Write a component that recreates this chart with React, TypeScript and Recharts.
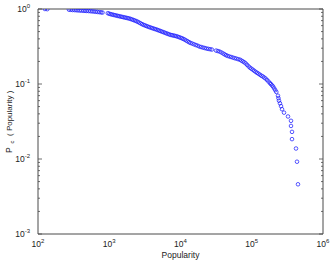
import { ScatterChart, Scatter, XAxis, YAxis } from 'recharts';

// popularity (x) and complementary cumulative probability (y)
const popularity = [
  125, 135, 272, 288, 305, 324, 343, 363, 385, 407, 432, 457, 484, 513, 543, 575, 610, 646, 684, 724,
  767, 804, 955, 1000, 1047, 1096, 1148, 1202, 1259, 1318, 1380, 1445, 1514, 1585, 1660, 1738, 1820,
  1905, 1995, 2089, 2188, 2291, 2399, 2512, 2630, 2754, 2884, 3020, 3162, 3311, 3467, 3631, 3802, 3981,
  4169, 4365, 4571, 4786, 5012, 5248, 5495, 5754, 6026, 6310, 6607, 6918, 7244, 7586, 7943, 8318, 8710,
  9120, 9550, 10000, 10470, 10960, 11480, 12020, 12590, 13180, 13800, 14620, 15490, 16410, 17380, 18410,
  19500, 20650, 21880, 23170, 24550, 26000, 27540, 31620, 33500, 35480, 37580, 39810, 41690, 43650,
  45710, 48420, 51290, 54330, 57540, 60950, 64570, 68390, 71610, 74990, 78520, 82220, 86100, 90160,
  94410, 98860, 103500, 108400, 113500, 118900, 124500, 130300, 136500, 142900, 149600, 156700, 164100,
  171800, 179900, 186200, 192800, 199500, 206500, 213800, 221300, 233400, 237100, 241000, 248900,
  257500, 266100, 283800, 322800, 355600, 355600, 367300, 367300, 417900, 431600, 445700,
];
const pc = [
  1.0, 0.995, 0.979, 0.975, 0.97, 0.968, 0.964, 0.959, 0.955, 0.953, 0.948, 0.944, 0.942, 0.94, 0.935,
  0.929, 0.925, 0.918, 0.914, 0.908, 0.902, 0.897, 0.879, 0.865, 0.853, 0.844, 0.835, 0.826, 0.818,
  0.809, 0.801, 0.793, 0.785, 0.777, 0.77, 0.762, 0.755, 0.747, 0.737, 0.725, 0.713, 0.701, 0.689,
  0.675, 0.659, 0.644, 0.628, 0.615, 0.605, 0.594, 0.584, 0.574, 0.566, 0.557, 0.549, 0.541, 0.534,
  0.525, 0.516, 0.508, 0.499, 0.491, 0.483, 0.474, 0.467, 0.459, 0.452, 0.448, 0.443, 0.439, 0.434,
  0.428, 0.421, 0.414, 0.407, 0.399, 0.39, 0.38, 0.371, 0.361, 0.353, 0.346, 0.338, 0.331, 0.324, 0.316,
  0.311, 0.306, 0.302, 0.297, 0.294, 0.291, 0.288, 0.279, 0.275, 0.27, 0.263, 0.255, 0.248, 0.242,
  0.237, 0.233, 0.229, 0.225, 0.221, 0.218, 0.214, 0.211, 0.205, 0.2, 0.195, 0.188, 0.18, 0.172, 0.165,
  0.16, 0.155, 0.15, 0.145, 0.141, 0.137, 0.133, 0.129, 0.126, 0.122, 0.118, 0.113, 0.108, 0.103,
  0.0995, 0.0959, 0.0923, 0.0873, 0.0827, 0.0783, 0.0698, 0.0647, 0.0599, 0.0553, 0.0507, 0.0461,
  0.0415, 0.0369, 0.0323, 0.0276, 0.023, 0.0184, 0.0138, 0.0092, 0.0046,
];

const xTicks = [100, 1000, 10000, 100000, 1000000];
const yTicks = [0.001, 0.01, 0.1, 1];
const xAllTicks = [
  100, 200, 300, 400, 500, 600, 700, 800, 900,
  1000, 2000, 3000, 4000, 5000, 6000, 7000, 8000, 9000,
  10000, 20000, 30000, 40000, 50000, 60000, 70000, 80000, 90000,
  100000, 200000, 300000, 400000, 500000, 600000, 700000, 800000, 900000, 1000000,
];
const yAllTicks = [
  0.001, 0.002, 0.003, 0.004, 0.005, 0.006, 0.007, 0.008, 0.009,
  0.01, 0.02, 0.03, 0.04, 0.05, 0.06, 0.07, 0.08, 0.09,
  0.1, 0.2, 0.3, 0.4, 0.5, 0.6, 0.7, 0.8, 0.9, 1,
];

const points = popularity.map((x, i) => ({ x, y: pc[i] }));

const AX = '#4a4a4a';
const FONT = '"Liberation Sans", Arial, sans-serif';
const MAJOR = 4;
const MINOR = 2;

function isMajor(v: number) {
  const l = Math.log10(v);
  return Math.abs(l - Math.round(l)) < 1e-6;
}

function expOf(v: number) {
  return Math.round(Math.log10(v));
}

function XLabelTick({ x, y, payload }: any) {
  return (
    <text x={x} y={y + 5} textAnchor="middle" fontSize={8.5} fontFamily={FONT} fill="#222">
      <tspan>10</tspan>
      <tspan dy={-4} fontSize={6}>{expOf(payload.value)}</tspan>
    </text>
  );
}

function YLabelTick({ x, y, payload }: any) {
  return (
    <text x={x} y={y + 3} textAnchor="end" fontSize={8.5} fontFamily={FONT} fill="#222">
      <tspan>10</tspan>
      <tspan dy={-4} fontSize={6}>{expOf(payload.value)}</tspan>
    </text>
  );
}

function BottomTick({ x, y, payload }: any) {
  const len = isMajor(payload.value) ? MAJOR : MINOR;
  return <line x1={x} x2={x} y1={y} y2={y - len} stroke={AX} strokeWidth={0.8} />;
}
function TopTick({ x, y, payload }: any) {
  const len = isMajor(payload.value) ? MAJOR : MINOR;
  return <line x1={x} x2={x} y1={y} y2={y + len} stroke={AX} strokeWidth={0.8} />;
}
function LeftTick({ x, y, payload }: any) {
  const len = isMajor(payload.value) ? MAJOR : MINOR;
  return <line x1={x} x2={x + len} y1={y} y2={y} stroke={AX} strokeWidth={0.8} />;
}
function RightTick({ x, y, payload }: any) {
  const len = isMajor(payload.value) ? MAJOR : MINOR;
  return <line x1={x} x2={x - len} y1={y} y2={y} stroke={AX} strokeWidth={0.8} />;
}

// axis titles, centred on the plot box (38..323 x 9..234)
function XTitle() {
  return (
    <text x={180.5} y={258} textAnchor="middle" fontSize={8.5} fontFamily={FONT} fill="#222">
      Popularity
    </text>
  );
}

function YTitle() {
  return (
    <g transform="translate(12 122) rotate(-90)" fontFamily={FONT} fill="#222">
      <text x={-31} y={0} fontSize={8.5}>P</text>
      <text x={-21.5} y={2} fontSize={6}>c</text>
      <text x={-14} y={0} fontSize={8}>( Popularity )</text>
    </g>
  );
}

function Ring({ cx, cy }: any) {
  if (cx == null || cy == null) return null;
  return <circle cx={cx} cy={cy} r={1.8} fill="none" stroke="#1f1fff" strokeWidth={0.75} />;
}

export default function App() {
  return (
    <div style={{ position: 'absolute', left: 0, top: 0, width: 332, height: 261, background: '#fff' }}>
      <ScatterChart width={332} height={261} margin={{ top: 9, right: 9, bottom: 0, left: 0 }}>
        <XAxis
          xAxisId="x"
          dataKey="x"
          type="number"
          scale="log"
          domain={[100, 1000000]}
          allowDataOverflow
          ticks={xTicks}
          interval={0}
          height={27}
          tickLine={false}
          axisLine={{ stroke: AX, strokeWidth: 1 }}
          tick={<XLabelTick />}
          label={<XTitle />}
        />
        <XAxis
          xAxisId="xb"
          type="number"
          scale="log"
          domain={[100, 1000000]}
          allowDataOverflow
          ticks={xAllTicks}
          interval={0}
          mirror
          height={1}
          tickSize={0}
          tickMargin={0}
          tickLine={false}
          axisLine={false}
          tick={<BottomTick />}
        />
        <XAxis
          xAxisId="xt"
          orientation="top"
          type="number"
          scale="log"
          domain={[100, 1000000]}
          allowDataOverflow
          ticks={xAllTicks}
          interval={0}
          mirror
          height={1}
          tickSize={0}
          tickMargin={0}
          tickLine={false}
          axisLine={{ stroke: AX, strokeWidth: 1 }}
          tick={<TopTick />}
        />
        <YAxis
          yAxisId="y"
          dataKey="y"
          type="number"
          scale="log"
          domain={[0.001, 1]}
          allowDataOverflow
          ticks={yTicks}
          interval={0}
          width={38}
          tickLine={false}
          axisLine={{ stroke: AX, strokeWidth: 1 }}
          tick={<YLabelTick />}
          label={<YTitle />}
        />
        <YAxis
          yAxisId="yl"
          type="number"
          scale="log"
          domain={[0.001, 1]}
          allowDataOverflow
          ticks={yAllTicks}
          interval={0}
          mirror
          width={1}
          tickSize={0}
          tickMargin={0}
          tickLine={false}
          axisLine={false}
          tick={<LeftTick />}
        />
        <YAxis
          yAxisId="yr"
          orientation="right"
          type="number"
          scale="log"
          domain={[0.001, 1]}
          allowDataOverflow
          ticks={yAllTicks}
          interval={0}
          mirror
          width={1}
          tickSize={0}
          tickMargin={0}
          tickLine={false}
          axisLine={{ stroke: AX, strokeWidth: 1 }}
          tick={<RightTick />}
        />
        <Scatter
          data={points}
          xAxisId="x"
          yAxisId="y"
          isAnimationActive={false}
          shape={<Ring />}
        />
      </ScatterChart>
    </div>
  );
}
